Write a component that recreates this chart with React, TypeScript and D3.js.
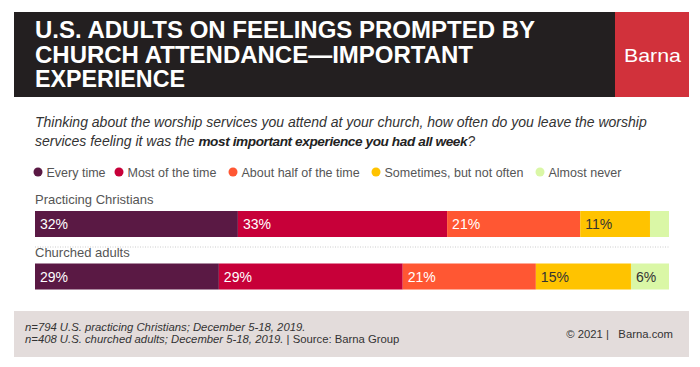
import React from 'react';
import * as d3 from 'd3';

const categories = ['Every time', 'Most of the time', 'About half of the time', 'Sometimes, but not often', 'Almost never'];
const colors = ['#5a1944', '#c70039', '#ff5733', '#ffc300', '#daf7a6'];
const labelColors = ['#fff', '#fff', '#fff', '#333', '#333'];
const groups = ['Practicing Christians', 'Churched adults'];
const everyTime = [32, 29];
const mostOfTime = [33, 29];
const aboutHalf = [21, 21];
const sometimes = [11, 15];
const almostNever = [3, 6];
const showLabel = [[true, true, true, true, false], [true, true, true, true, true]];

const titleLines = ['U.S. ADULTS ON FEELINGS PROMPTED BY', 'CHURCH ATTENDANCE\u2014IMPORTANT', 'EXPERIENCE'];
const titleWidths = [500, 438, 150];

const W = 700;
const H = 367;

const App = () => {
  const rows = groups.map((g, i) => ({
    group: g,
    'Every time': everyTime[i],
    'Most of the time': mostOfTime[i],
    'About half of the time': aboutHalf[i],
    'Sometimes, but not often': sometimes[i],
    'Almost never': almostNever[i],
  }));
  const stacked = d3.stack<any>().keys(categories)(rows);

  const x = d3.scaleLinear().domain([0, 100]).range([35, 669]);
  const y = d3.scaleBand().domain(groups).range([199, 304]).paddingInner(0).paddingOuter(0);
  // each band: label then bar
  const barTop = (g: string) => (y(g) as number) + 12;
  const barH = 26;

  // legend dot centres
  const legendX = [38, 119, 233, 376, 540];

  return (
    <svg width={W} height={H} style={{ position: 'absolute', left: 0, top: 0, fontFamily: 'Liberation Sans, Arial, sans-serif' }}>
      <rect width={W} height={H} fill="#fff" />
      {/* header */}
      <rect x={14} y={12} width={601} height={85} fill="#231f20" />
      <rect x={615} y={12} width={74} height={85} fill="#d1313b" />
      {titleLines.map((t, i) => (
        <text key={i} x={35} y={38 + i * 24.5} fill="#fff" fontSize={23.5} fontWeight="bold"
          textLength={titleWidths[i]} lengthAdjust="spacingAndGlyphs">{t}</text>
      ))}
      <text x={624} y={62} fill="#fff" fontSize={18.5} textLength={57} lengthAdjust="spacingAndGlyphs">Barna</text>

      {/* question */}
      <text x={35} y={127} fontSize={14} fontStyle="italic" fill="#333">
        Thinking about the worship services you attend at your church, how often do you leave the worship
      </text>
      <text x={35} y={146} fontSize={14} fontStyle="italic" fill="#333">
        services feeling it was the <tspan fontWeight="bold" fill="#222" fontSize={13.6} letterSpacing={-0.4}>most important experience you had all week</tspan>?
      </text>

      {/* legend */}
      {categories.map((c, i) => (
        <g key={c} transform={`translate(${legendX[i]},172)`}>
          <circle cx={0} cy={0} r={4.5} fill={colors[i]} />
          <text x={8.5} y={4.5} fontSize={12.5} fill="#555">{c}</text>
        </g>
      ))}

      {/* bars */}
      {groups.map((g) => (
        <text key={g} x={35} y={barTop(g) - 7} fontSize={13} fill="#555">{g}</text>
      ))}
      {stacked.map((s, si) => (
        <g key={s.key}>
          {s.map((d, di) => (
            <g key={di}>
              <rect x={x(d[0])} y={barTop(groups[di])} width={x(d[1]) - x(d[0])} height={barH} fill={colors[si]} />
              {showLabel[di][si] && (
                <text x={x(d[0]) + 5} y={barTop(groups[di]) + 18} fontSize={14} fill={labelColors[si]}>
                  {`${d[1] - d[0]}%`}
                </text>
              )}
            </g>
          ))}
        </g>
      ))}
      <line x1={35} x2={669} y1={247} y2={247} stroke="#ccc" strokeDasharray="1,1.5" />

      {/* footer */}
      <rect x={14} y={311} width={675} height={46} fill="#e3dcdb" />
      <text x={25} y={331} fontSize={11.3} fontStyle="italic" fill="#333">n=794 U.S. practicing Christians; December 5-18, 2019.</text>
      <text x={25} y={343} fontSize={11.3} fill="#333">
        <tspan fontStyle="italic">n=408 U.S. churched adults; December 5-18, 2019. </tspan>| Source: Barna Group
      </text>
      <text x={673} y={338} fontSize={11.3} fill="#333" textAnchor="end" xmlSpace="preserve">{'\u00a9 2021 |   Barna.com'}</text>
    </svg>
  );
};

export default App;
